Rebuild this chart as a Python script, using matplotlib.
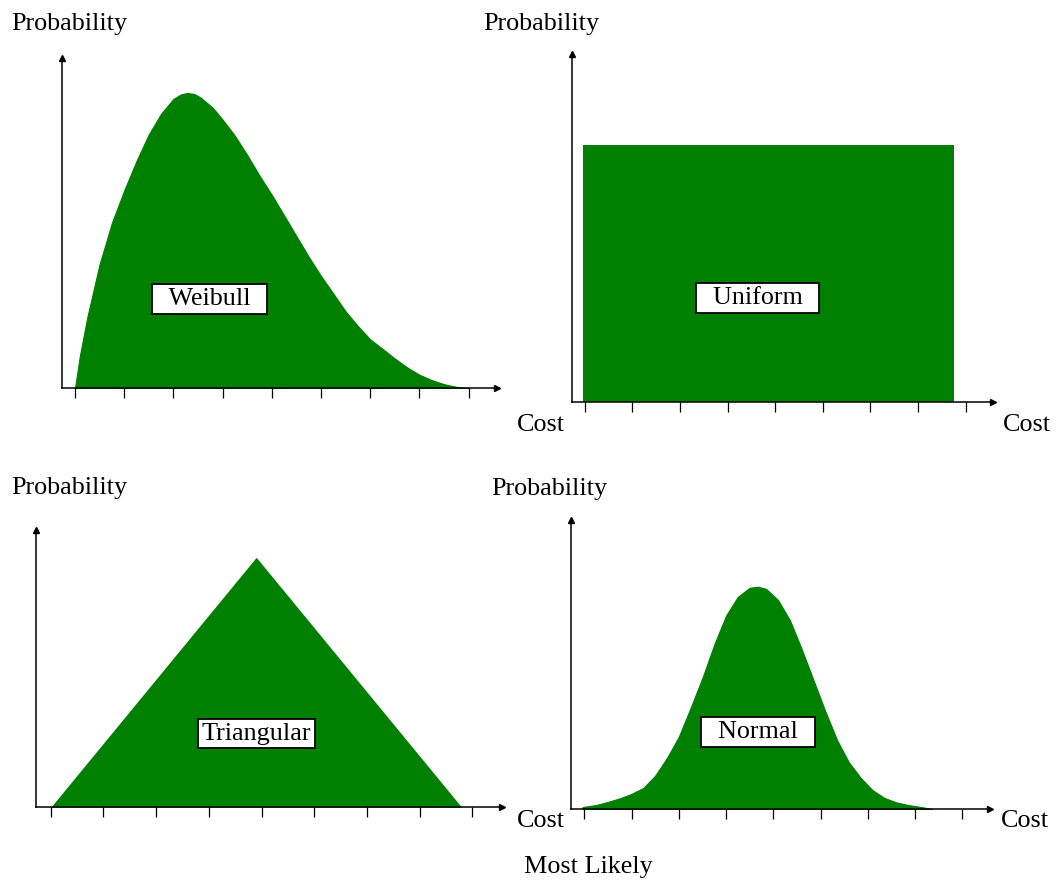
import numpy as np
import matplotlib.pyplot as plt

plt.rcParams['font.family'] = ['Liberation Serif', 'DejaVu Serif']

W, H = 1057, 881
GREEN = '#008000'
FS = 18.8

# Weibull curve, x in tick units, y relative to the peak
weibull_x = [0.0, 0.1, 0.25, 0.5, 0.75, 1.0, 1.25, 1.5, 1.75, 2.0, 2.15, 2.28, 2.42,
             2.55, 2.8, 3.0, 3.25, 3.5, 3.75, 4.0, 4.25, 4.5, 4.75, 5.0, 5.25, 5.5,
             5.75, 6.0, 6.25, 6.5, 6.75, 7.0, 7.25, 7.5, 7.75, 8.0]
weibull_y = [0.0, 0.11, 0.24, 0.42, 0.56, 0.67, 0.77, 0.86, 0.93, 0.98, 0.995, 1.0, 0.997,
             0.985, 0.95, 0.91, 0.855, 0.79, 0.72, 0.655, 0.585, 0.515, 0.445, 0.38, 0.32, 0.26,
             0.21, 0.165, 0.133, 0.10, 0.07, 0.045, 0.027, 0.013, 0.004, 0.0]

# Uniform block
uniform_x = [-0.03, 7.75]
uniform_y = [1.0, 1.0]

# Triangular
tri_x = [0.0, 3.9, 7.8]
tri_y = [0.0, 1.0, 0.0]

# Normal curve
normal_x = [-0.04, 0.0, 0.25, 0.5, 0.75, 1.0, 1.25, 1.5, 1.75, 2.0, 2.25, 2.5, 2.75,
            3.0, 3.25, 3.5, 3.68, 3.85, 4.1, 4.35, 4.6, 4.85, 5.1, 5.35, 5.6, 5.85,
            6.1, 6.35, 6.6, 6.85, 7.1, 7.36]
normal_y = [0.008, 0.01, 0.018, 0.032, 0.048, 0.068, 0.095, 0.15, 0.23, 0.325, 0.455, 0.59,
            0.74, 0.87, 0.955, 0.995, 1.0, 0.99, 0.94, 0.85, 0.72, 0.58, 0.44, 0.31, 0.21,
            0.14, 0.085, 0.05, 0.03, 0.018, 0.01, 0.0]

labels = ['Weibull', 'Uniform', 'Triangular', 'Normal']

fig = plt.figure(figsize=(W / 100, H / 100), dpi=100)


def panel(yaxis_px, tick0_px, step_px, tip_px, axis_px, top_px, unit_px):
    # axes box in pixels -> figure fractions
    ax = fig.add_axes([yaxis_px / W, 1 - axis_px / H,
                       (tip_px - yaxis_px) / W, (axis_px - top_px) / H])
    ax.set_xlim((yaxis_px - tick0_px) / step_px, (tip_px - tick0_px) / step_px)
    ax.set_ylim(0, (axis_px - top_px) / unit_px)
    ax.patch.set_alpha(0)
    for s in ['top', 'right']:
        ax.spines[s].set_visible(False)
    for s in ['left', 'bottom']:
        ax.spines[s].set_linewidth(1.1)
        ax.spines[s].set_zorder(5)
    ax.set_xticks(range(9))
    ax.set_xticklabels([])
    ax.set_yticks([])
    ax.tick_params(axis='x', direction='out', length=7.5, width=0.9)
    ax.plot(1, 0, '>k', ms=5, transform=ax.transAxes, clip_on=False, zorder=6)
    ax.plot(0, 1, '^k', ms=5, transform=ax.transAxes, clip_on=False, zorder=6)
    return ax


def box_label(ax, x, y, text, spaces):
    pad = ' ' * spaces
    ax.text(x, y, pad + text + pad, ha='center', va='center', fontsize=FS, zorder=7,
            bbox=dict(boxstyle='square,pad=0.15', fc='white', ec='black', lw=1.3))


# Weibull
ax1 = panel(61.5, 75, 49.2, 496.7, 388, 58, 295)
ax1.fill_between(weibull_x, 0, weibull_y, color=GREEN, lw=0.8, edgecolor=GREEN)
box_label(ax1, 2.73, 0.303, labels[0], 2)

# Uniform
ax2 = panel(572, 584.7, 47.6, 993, 401.7, 54, 256.4)
ax2.fill_between(uniform_x, 0, uniform_y, color=GREEN, lw=0)
box_label(ax2, 3.63, 0.404, labels[1], 2)

# Triangular
ax3 = panel(36, 50.7, 52.7, 501.7, 807.3, 530, 250)
ax3.fill_between(tri_x, 0, tri_y, color=GREEN, lw=0)
box_label(ax3, 3.9, 0.295, labels[2], 0)

# Normal
ax4 = panel(571, 584.3, 47.25, 990, 809, 520, 222.3)
ax4.fill_between(normal_x, 0, normal_y, color=GREEN, lw=0.8, edgecolor=GREEN)
box_label(ax4, 3.67, 0.346, labels[3], 2)


def ftext(x, y, s, ha='left'):
    fig.text(x / W, 1 - y / H, s, ha=ha, va='baseline', fontsize=FS)


ftext(11, 30, 'Probability')
ftext(483, 30, 'Probability')
ftext(11, 494, 'Probability')
ftext(491, 495, 'Probability')
ftext(517, 431, 'Cost')
ftext(1003, 431, 'Cost')
ftext(517, 827, 'Cost')
ftext(1001, 827, 'Cost')
ftext(524, 873, 'Most Likely')

fig.savefig('out.png', dpi=100)
